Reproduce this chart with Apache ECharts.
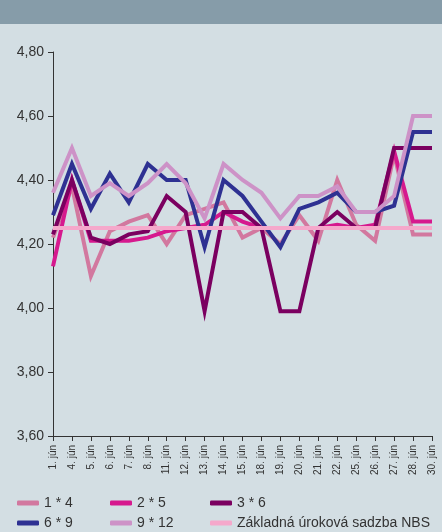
<!DOCTYPE html>
<html>
<head>
<meta charset="utf-8">
<script src="https://cdn.jsdelivr.net/npm/echarts@6/dist/echarts.min.js"></script>
<style>
html,body{margin:0;padding:0;background:#D3DEE3;}
#c{width:442px;height:532px;}
</style>
</head>
<body>
<div id="c"></div>
<script>
var categories = ['1. jún','4. jún','5. jún','6. jún','7. jún','8. jún','11. jún','12. jún','13. jún','14. jún','15. jún','18. jún','19. jún','20. jún','21. jún','22. jún','25. jún','26. jún','27. jún','28. jún','30. jún'];
var s1x4  = [4.22,4.38,4.10,4.24,4.27,4.29,4.20,4.29,4.31,4.33,4.22,4.25,4.20,4.29,4.21,4.40,4.26,4.21,4.48,4.23,4.23];
var s2x5  = [4.13,4.40,4.21,4.21,4.21,4.22,4.24,4.25,4.26,4.30,4.27,4.25,4.25,4.25,4.25,4.26,4.25,4.26,4.49,4.27,4.27];
var s3x6  = [4.23,4.40,4.22,4.20,4.23,4.24,4.35,4.30,3.99,4.30,4.30,4.25,3.99,3.99,4.25,4.30,4.25,4.25,4.50,4.50,4.50];
var s6x9  = [4.29,4.45,4.31,4.42,4.33,4.45,4.40,4.40,4.19,4.40,4.35,4.27,4.19,4.31,4.33,4.36,4.30,4.30,4.32,4.55,4.55];
var s9x12 = [4.36,4.50,4.35,4.39,4.35,4.39,4.45,4.39,4.28,4.45,4.40,4.36,4.28,4.35,4.35,4.38,4.30,4.30,4.35,4.60,4.60];
var nbs   = [4.25,4.25,4.25,4.25,4.25,4.25,4.25,4.25,4.25,4.25,4.25,4.25,4.25,4.25,4.25,4.25,4.25,4.25,4.25,4.25,4.25];
var seriesNames = ['1 * 4','2 * 5','3 * 6','6 * 9','9 * 12','Základná úroková sadzba NBS'];
var yTicks = {min:3.6, max:4.8, interval:0.2};

var colors = ['#D2789F','#D6198E','#7B0060','#2E3192','#CD92C7','#F5A8CB'];
var dataSets = [s1x4,s2x5,s3x6,s6x9,s9x12,nbs];
var font = 'Liberation Sans, Arial, sans-serif';

var chart = echarts.init(document.getElementById('c'), null, {renderer:'canvas'});

var legendPos = [[17,496],[110,496],[210,496],[17,516],[110,516],[210,516]];
var legends = seriesNames.map(function(n,i){
  return {
    data:[n], left:legendPos[i][0], top:legendPos[i][1], padding:0,
    icon:'roundRect', itemWidth:22, itemHeight:5, itemGap:0,
    textStyle:{fontFamily:font, fontSize:14, color:'#333', padding:[0,0,0,0]},
    selectedMode:false
  };
});

var option = {
  backgroundColor:'#D3DEE3',
  animation:false,
  color:colors,
  graphic:[{type:'rect', left:0, top:0, shape:{width:442, height:24}, style:{fill:'#869CA9'}, silent:true}],
  legend:legends,
  grid:{left:53, right:10, top:52, bottom:96, containLabel:false},
  xAxis:{
    type:'category', data:categories, boundaryGap:false,
    axisLine:{lineStyle:{color:'#333', width:1}},
    axisTick:{show:true, length:5, interval:0, lineStyle:{color:'#333'}},
    axisLabel:{rotate:90, interval:0, fontSize:10, fontFamily:'Liberation Sans Narrow, Liberation Sans, sans-serif', color:'#333', margin:9}
  },
  yAxis:{
    type:'value', min:yTicks.min, max:yTicks.max, interval:yTicks.interval,
    axisLine:{show:true, lineStyle:{color:'#333', width:1}},
    axisTick:{show:true, length:5, lineStyle:{color:'#333'}},
    splitLine:{show:false},
    axisLabel:{fontSize:14, fontFamily:font, color:'#333', margin:9,
      formatter:function(v){return v.toFixed(2).replace('.',',');}}
  },
  series:seriesNames.map(function(n,i){
    return {
      name:n, type:'line', data:dataSets[i], symbol:'none', showSymbol:false,
      lineStyle:{width:4, color:colors[i], join:'miter'},
      itemStyle:{color:colors[i]},
      z:2+i
    };
  })
};
chart.setOption(option);
</script>
</body>
</html>
